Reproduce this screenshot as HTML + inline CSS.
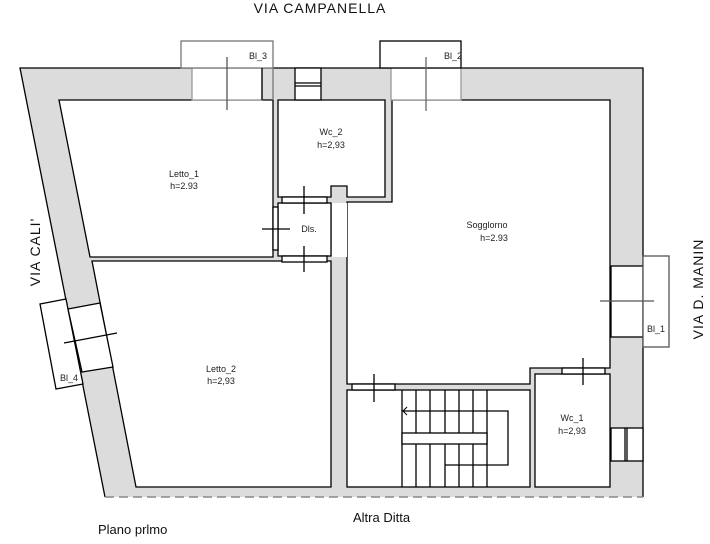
<!DOCTYPE html>
<html><head><meta charset="utf-8"><style>
html,body{margin:0;padding:0;background:#fff;}
svg{display:block;font-family:"Liberation Sans",sans-serif;}
</style></head><body>
<svg width="710" height="544" viewBox="0 0 710 544" xmlns="http://www.w3.org/2000/svg">
<g stroke="#000" stroke-width="1.3" fill="none">
<polygon points="20,68 643,68 643,497 105,497" fill="#dcdcdc" stroke="none"/>
<polyline points="105,497 20,68 643,68 643,497"/>
<line x1="105" y1="497" x2="643" y2="497" stroke="#888" stroke-dasharray="9,5" stroke-width="1.6"/>
<!-- Letto_1 -->
<polygon points="59,100 273,100 273,257 90,257" fill="#fff"/>
<!-- Letto_2 -->
<polygon points="92,261 331,261 331,487 136,487" fill="#fff"/>
<!-- Soggiorno -->
<polygon points="392,100 610,100 610,368 530,368 530,384 347,384 347,202 392,202" fill="#fff"/>
<!-- Wc_2 -->
<polygon points="278,100 385,100 385,197 347,197 347,186 331,186 331,197 278,197" fill="#fff"/>
<!-- Dis -->
<rect x="278" y="203" width="53" height="53" fill="#fff"/>
<rect x="332" y="203" width="15" height="54" fill="#fff" stroke="none"/>
<!-- Stairs -->
<rect x="347" y="390" width="183" height="97" fill="#fff"/>
<!-- Wc_1 -->
<rect x="535" y="374" width="75" height="113" fill="#fff"/>
<!-- doors -->
<rect x="282" y="197" width="45" height="6" fill="#fff"/>
<rect x="282" y="256" width="45" height="6" fill="#fff"/>
<rect x="273" y="207" width="5" height="43" fill="#fff"/>
<rect x="352" y="384" width="43" height="6" fill="#fff"/>
<rect x="562" y="368" width="43" height="6" fill="#fff"/>
<!-- top windows -->
<rect x="192" y="68" width="70" height="32" fill="#fff" stroke="#999"/>
<rect x="181" y="41" width="92" height="27" fill="#fff" stroke="#777"/>
<line x1="227" y1="57" x2="227" y2="110" stroke="#555"/>
<line x1="262" y1="68" x2="262" y2="100"/>
<line x1="273" y1="68" x2="273" y2="100" stroke="#777"/>
<rect x="295" y="68" width="26" height="32" fill="#fff"/>
<line x1="295" y1="83" x2="321" y2="83"/>
<line x1="295" y1="86" x2="321" y2="86"/>
<rect x="391" y="68" width="70" height="32" fill="#fff" stroke="#999"/>
<rect x="380" y="41" width="81" height="27" fill="#fff"/>
<line x1="426" y1="57" x2="426" y2="111" stroke="#666"/>
<!-- right windows -->
<rect x="611" y="266" width="32" height="71" fill="#fff"/>
<rect x="643" y="256" width="26" height="91" fill="#fff" stroke="#555"/>
<line x1="600" y1="301" x2="654" y2="301" stroke="#555"/>
<rect x="611" y="428" width="32" height="33" fill="#fff"/>
<line x1="625" y1="428" x2="625" y2="461"/>
<line x1="627" y1="428" x2="627" y2="461"/>
<!-- left window BL_4 -->
<polygon points="40,304 66,299 83,384 56,389" fill="#fff"/>
<polygon points="68,309 100,303 113,367 82,372" fill="#fff"/>
<line x1="64" y1="343" x2="117" y2="333"/>
<!-- door crosses -->
<line x1="304" y1="186" x2="304" y2="214"/>
<line x1="304" y1="246" x2="304" y2="272"/>
<line x1="262" y1="229" x2="290" y2="229"/>
<line x1="374" y1="374" x2="374" y2="402"/>
<line x1="583" y1="358" x2="583" y2="385"/>
<!-- stairs -->
<line x1="402" y1="390" x2="402" y2="487"/>
<line x1="487" y1="390" x2="487" y2="487"/>
<line x1="416" y1="390" x2="416" y2="433"/>
<line x1="430" y1="390" x2="430" y2="433"/>
<line x1="445" y1="390" x2="445" y2="433"/>
<line x1="459" y1="390" x2="459" y2="433"/>
<line x1="473" y1="390" x2="473" y2="433"/>
<line x1="416" y1="444" x2="416" y2="487"/>
<line x1="430" y1="444" x2="430" y2="487"/>
<line x1="445" y1="444" x2="445" y2="487"/>
<line x1="459" y1="444" x2="459" y2="487"/>
<line x1="473" y1="444" x2="473" y2="487"/>
<rect x="402" y="433" width="85" height="11" fill="#fff"/>
<polyline points="402,411 508,411 508,465 445,465"/>
<polyline points="407,407 403,411 407,415" stroke-width="1"/>
</g>
<g font-size="9" fill="#222" text-anchor="middle">
<text x="184" y="177">Letto_1</text><text x="184" y="189">h=2.93</text>
<text x="331" y="135">Wc_2</text><text x="331" y="148">h=2,93</text>
<text x="309" y="232">Dls.</text>
<text x="487" y="228">Sogglorno</text><text x="494" y="241">h=2.93</text>
<text x="221" y="372">Letto_2</text><text x="221" y="384">h=2,93</text>
<text x="572" y="421">Wc_1</text><text x="572" y="434">h=2,93</text>
<text x="258" y="59">Bl_3</text>
<text x="453" y="59">Bl_2</text>
<text x="656" y="332">Bl_1</text>
<text x="69" y="381">Bl_4</text>
</g>
<g font-size="14" fill="#111">
<text x="320" y="13" text-anchor="middle" letter-spacing="1">VIA  CAMPANELLA</text>
<text transform="translate(40,252) rotate(-90)" text-anchor="middle" letter-spacing="1">VIA  CALI'</text>
<text transform="translate(703,289) rotate(-90)" text-anchor="middle" letter-spacing="1">VIA  D. MANIN</text>
<text x="98" y="534" font-size="13">Plano prlmo</text>
<text x="353" y="522" font-size="13">Altra Ditta</text>
</g>
</svg>
</body></html>
